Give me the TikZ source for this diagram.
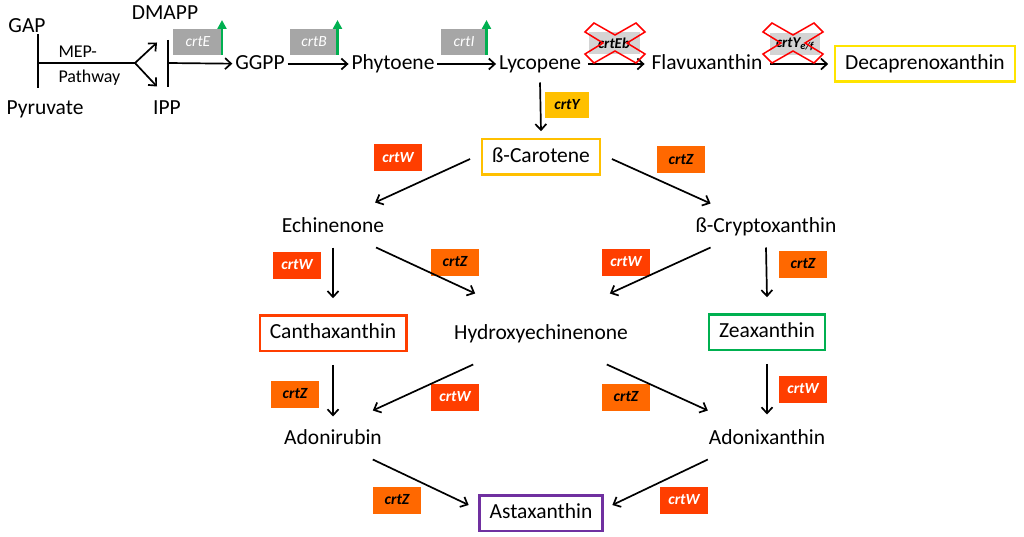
\documentclass[tikz,border=0pt]{standalone}
\usepackage{fontspec}
\setmainfont{Carlito}
\usepackage{tikz}
\usetikzlibrary{arrows.meta}
\definecolor{upGray}{RGB}{166,166,166}
\definecolor{koGray}{RGB}{212,212,212}
\definecolor{crtWred}{RGB}{255,62,0}
\definecolor{crtZorange}{RGB}{255,104,0}
\definecolor{crtYgold}{RGB}{255,192,0}
\definecolor{upGreen}{RGB}{0,176,80}
\definecolor{decaYellow}{RGB}{255,228,0}
\definecolor{astaPurple}{RGB}{112,48,160}
\newcommand{\drawKnockout}[2]{
\draw [line width=1.5pt,red,line join=miter] (#1-30,#2-11) -- (#1-21,#2-20) -- (#1,#2-8) -- (#1+21,#2-20) -- (#1+30,#2-11) -- (#1+12,#2) -- (#1+30,#2+11) -- (#1+21,#2+20) -- (#1,#2+8) -- (#1-21,#2+20) -- (#1-30,#2+11) -- (#1-12,#2) -- cycle;
}
\tikzset{
compound/.style={font=\fontsize{21.5}{25}\selectfont, text height=15pt, text depth=4pt, inner sep=3pt, outer sep=0pt},
product/.style={compound, draw, line width=2.5pt, inner xsep=10pt, minimum height=35.5pt},
gene/.style={inner sep=0pt, outer sep=0pt, minimum width=48pt, minimum height=27pt, font=\fontsize{15.5}{17}\selectfont\bfseries\itshape},
geneW/.style={gene, fill=crtWred, text=white},
geneZ/.style={gene, fill=crtZorange},
geneY/.style={gene, fill=crtYgold, minimum width=44pt, minimum height=26pt},
geneUp/.style={gene, fill=upGray, text=white, minimum height=26pt, font=\fontsize{15.5}{17}\selectfont\itshape},
geneKO/.style={gene, fill=koGray, minimum width=51pt, minimum height=22pt, font=\fontsize{15}{17}\selectfont\bfseries\itshape},
rxn/.style={-{Straight Barb[length=6pt,width=11pt]}, line width=1.7pt},
upreg/.style={-{Triangle[length=9pt,width=9pt]}, line width=2.5pt, upGreen}
}
\begin{document}
\begin{tikzpicture}[x=1pt,y=-1pt]
\useasboundingbox (0,0) rectangle (1024,537);
% precursors
\node (gap) at (27,27) [compound] {GAP};
\node (pyr) at (45,109) [compound] {Pyruvate};
\node (dmapp) at (165,14) [compound] {DMAPP};
\node (ipp) at (167,109) [compound] {IPP};
\node (mepLbl) at (55,66) [anchor=west,align=left,font=\fontsize{18}{25}\selectfont] {MEP-\\Pathway};
\coordinate (mep) at (38,63);
\coordinate (fork) at (135,63);
\coordinate (bar) at (168,63);
\draw [line width=1.7pt] (38,34) -- (38,88);
\draw [line width=1.7pt] (168,40) -- (168,87);
\draw [line width=1.7pt] (mep) -- (fork);
\draw [rxn] (fork) -- ([xshift=-8pt,yshift=-16pt]dmapp.south);
\draw [rxn] (fork) -- ([xshift=-10pt,yshift=10pt]ipp.north);
% main chain
\node (ggpp) at (260,64) [compound] {GGPP};
\node (phyt) at (393,64) [compound] {Phytoene};
\node (lyc) at (540,64) [compound] {Lycopene};
\node (flav) at (707,64) [compound] {Flavuxanthin};
\node (deca) at (925,64) [product,draw=decaYellow] {Decaprenoxanthin};
\node (gE) at (198,42) [geneUp,minimum width=50pt] {crtE};
\node (gB) at (314,42) [geneUp,minimum width=49pt] {crtB};
\node (gI) at (464,42) [geneUp,minimum width=47pt] {crtI};
\node (gEb) at (614,43) [geneKO] {crtEb};
\node (gYef) at (795,44) [geneKO,minimum width=50pt] {crtY\textsubscript{e/f}};
\draw [rxn] (bar) -- (ggpp);
\draw [rxn] (ggpp) -- (phyt);
\draw [rxn] (phyt) -- (lyc);
\draw [rxn,shorten <=4pt,shorten >=4pt] (lyc) -- (flav);
\draw [rxn,shorten <=5pt,shorten >=7pt] (flav) -- (deca);
\draw [upreg] ([xshift=-1pt]gE.south east) -- ([xshift=-1pt,yshift=9pt]gE.north east);
\draw [upreg] ([xshift=-1pt]gB.south east) -- ([xshift=-1pt,yshift=9pt]gB.north east);
\draw [upreg] ([xshift=-1pt]gI.south east) -- ([xshift=-1pt,yshift=9pt]gI.north east);
\drawKnockout{615}{43};
\drawKnockout{793}{43};
% carotenes
\node (bcar) at (541,157) [product,draw=crtYgold] {ß-Carotene};
\node (echi) at (333,227) [compound] {Echinenone};
\node (bcry) at (766,227) [compound] {ß-Cryptoxanthin};
\node (cantha) at (333,333) [product,draw=crtWred] {Canthaxanthin};
\node (hydr) at (541,334) [compound] {Hydroxyechinenone};
\node (zea) at (767,332) [product,draw=upGreen] {Zeaxanthin};
\node (adonir) at (333,439) [compound] {Adonirubin};
\node (adonix) at (767,439) [compound] {Adonixanthin};
\node (asta) at (541,513) [product,draw=astaPurple] {Astaxanthin};
% enzymes
\node (gY) at (567,105) [geneY] {crtY};
\node (gW1) at (398,158) [geneW] {crtW};
\node (gZ1) at (681,160) [geneZ] {crtZ};
\node (gW2) at (297,265) [geneW] {crtW};
\node (gZ2) at (455,262) [geneZ] {crtZ};
\node (gW3) at (626,262) [geneW] {crtW};
\node (gZ3) at (803,264) [geneZ] {crtZ};
\node (gZ4) at (295,394) [geneZ] {crtZ};
\node (gW4) at (455,397) [geneW] {crtW};
\node (gZ5) at (626,397) [geneZ] {crtZ};
\node (gW5) at (803,389) [geneW] {crtW};
\node (gZ6) at (397,500) [geneZ] {crtZ};
\node (gW6) at (684,500) [geneW] {crtW};
% reactions
\draw [rxn] ([yshift=-6pt]lyc.south) -- ([yshift=8pt]bcar.north);
\draw [rxn] ([xshift=-12pt,yshift=-2pt]bcar.west) -- ([xshift=-12pt,yshift=12pt]echi.north east);
\draw [rxn] ([xshift=12pt,yshift=-2pt]bcar.east) -- ([xshift=18pt,yshift=11pt]bcry.north west);
\draw [rxn] ([yshift=-8pt]echi.south) -- ([yshift=17pt]cantha.north);
\draw [rxn] ([xshift=-11pt,yshift=-8pt]echi.south east) -- ([xshift=24pt,yshift=28pt]hydr.north west);
\draw [rxn] ([xshift=18pt,yshift=-8pt]bcry.south west) -- ([xshift=-21pt,yshift=28pt]hydr.north east);
\draw [rxn] ([yshift=-8pt]bcry.south) -- ([yshift=17pt]zea.north);
\draw [rxn] ([yshift=-14pt]cantha.south) -- ([yshift=10pt]adonir.north);
\draw [rxn] ([xshift=22pt,yshift=-18pt]hydr.south west) -- ([xshift=-12pt,yshift=16pt]adonir.north east);
\draw [rxn] ([xshift=-24pt,yshift=-18pt]hydr.south east) -- ([xshift=2pt,yshift=16pt]adonix.north west);
\draw [rxn] ([yshift=-14pt]zea.south) -- ([yshift=12pt]adonix.north);
\draw [rxn] ([xshift=-12pt,yshift=-8pt]adonir.south east) -- ([xshift=-11pt,yshift=8pt]asta.west);
\draw [rxn] ([xshift=2pt,yshift=-8pt]adonix.south west) -- ([xshift=10pt,yshift=8pt]asta.east);
\end{tikzpicture}
\end{document}
